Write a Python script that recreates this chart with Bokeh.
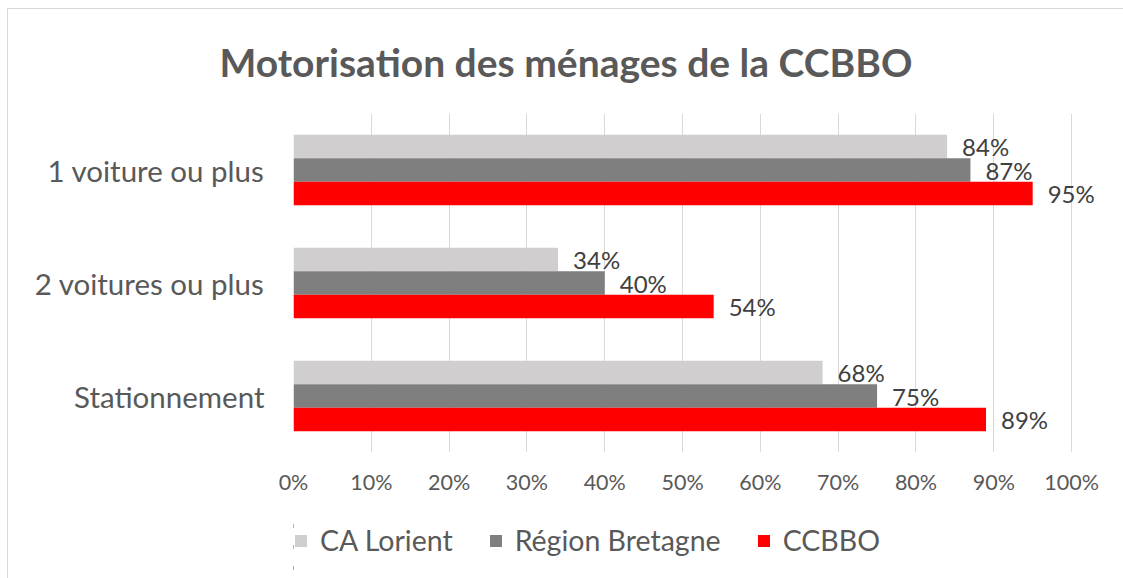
from bokeh.plotting import figure
from bokeh.models import (ColumnDataSource, FactorRange, Range1d, FixedTicker,
                          NumeralTickFormatter, LabelSet, Legend, LegendItem)
from bokeh.layouts import column
from bokeh.transform import dodge
from bokeh.core.properties import value
from bokeh.embed import file_html
from bokeh.resources import INLINE

# ---- data ----
categories = ["1 voiture ou plus", "2 voitures ou plus", "Stationnement"]
series_names = ["CA Lorient", "Région Bretagne", "CCBBO"]
ca_lorient = [0.84, 0.34, 0.68]
region_bretagne = [0.87, 0.40, 0.75]
ccbbo = [0.95, 0.54, 0.89]
x_ticks = [0, 0.1, 0.2, 0.3, 0.4, 0.5, 0.6, 0.7, 0.8, 0.9, 1.0]
title_text = "Motorisation des ménages de la CCBBO"

colors = ["#D0CECE", "#7F7F7F", "#FF0000"]
FONT = "Lato"
TXT = "#595959"

src = ColumnDataSource(dict(
    cat=categories,
    ca=ca_lorient, rb=region_bretagne, cc=ccbbo,
    ca_lbl=[f"{round(v*100)}%" for v in ca_lorient],
    rb_lbl=[f"{round(v*100)}%" for v in region_bretagne],
    cc_lbl=[f"{round(v*100)}%" for v in ccbbo],
))

p = figure(frame_width=817, frame_height=339, output_backend="svg", toolbar_location=None,
           y_range=FactorRange(factors=list(reversed(categories)), range_padding=0),
           x_range=Range1d(0, 1.05),
           min_border_left=285, min_border_right=14, min_border_top=104,
           min_border_bottom=63)
p.outline_line_color = None
p.background_fill_color = "white"
p.border_fill_color = "white"

bh = 0.208
fields = ["ca", "rb", "cc"]
lbls = ["ca_lbl", "rb_lbl", "cc_lbl"]
offs = [bh, 0.0, -bh]
for f, lb, off, c in zip(fields, lbls, offs, colors):
    p.hbar(y=dodge("cat", off, range=p.y_range), right=f, left=0, height=bh,
           source=src, fill_color=c, line_color=None)
    ls = LabelSet(x=f, y=dodge("cat", off, range=p.y_range), text=lb, source=src,
                  x_offset=15, y_offset=0, text_baseline="middle", text_align="left",
                  text_font=value(FONT), text_font_size="24px", text_color="#404040")
    p.add_layout(ls)

# axes
p.xaxis.ticker = FixedTicker(ticks=x_ticks)
p.xaxis.formatter = NumeralTickFormatter(format="0%")
p.xaxis.axis_line_color = None
p.xaxis.major_tick_line_color = None
p.xaxis.minor_tick_line_color = None
p.xaxis.major_label_text_font = FONT
p.xaxis.major_label_text_font_size = "21.5px"
p.xaxis.major_label_text_color = TXT
p.xaxis.major_label_standoff = 10

p.yaxis.axis_line_color = None
p.yaxis.major_tick_line_color = None
p.yaxis.minor_tick_line_color = None
p.yaxis.major_label_text_font = FONT
p.yaxis.major_label_text_font_size = "29.5px"
p.yaxis.major_label_text_color = TXT
p.yaxis.major_label_standoff = 23

p.xgrid.grid_line_color = "#D9D9D9"
p.xgrid.grid_line_width = 1
p.ygrid.grid_line_color = None

# title
p.title.text = title_text
p.title.align = "left"
p.title.offset = -74
p.title.vertical_align = "top"
p.title.standoff = 54
p.title.text_font = FONT
p.title.text_font_size = "39px"
p.title.text_font_style = "bold"
p.title.text_color = TXT

# legend strip (own small figure so the legend is not clipped)
lg = figure(width=1116, height=63, output_backend="svg", toolbar_location=None,
            x_range=Range1d(2, 3),
            y_range=FactorRange(factors=list(reversed(categories)), range_padding=0),
            x_axis_type=None, y_axis_type=None, min_border=0)
lg.outline_line_color = None
lg.grid.visible = False
lg.background_fill_color = "white"
lg.border_fill_color = "white"
leg_renderers = [lg.hbar(y="cat", right=f, left=0, height=0.2, source=src,
                         fill_color=c, line_color=None)
                 for f, c in zip(fields, colors)]
legend = Legend(items=[LegendItem(label=n, renderers=[r]) for n, r in zip(series_names, leg_renderers)],
                orientation="horizontal", location=(0, 21),
                glyph_width=15, glyph_height=15, label_standoff=12, spacing=35,
                padding=0, margin=0, border_line_color=None, background_fill_alpha=0,
                label_text_font=FONT, label_text_font_size="28.5px", label_text_color=TXT)
lg.add_layout(legend, "center")

layout = column(p, lg, spacing=0)
layout.styles = {"border-left": "1px solid #D9D9D9", "border-top": "1px solid #D9D9D9",
                 "margin-left": "7px", "margin-top": "8px"}

open("out.html", "w").write(file_html(layout, INLINE))
